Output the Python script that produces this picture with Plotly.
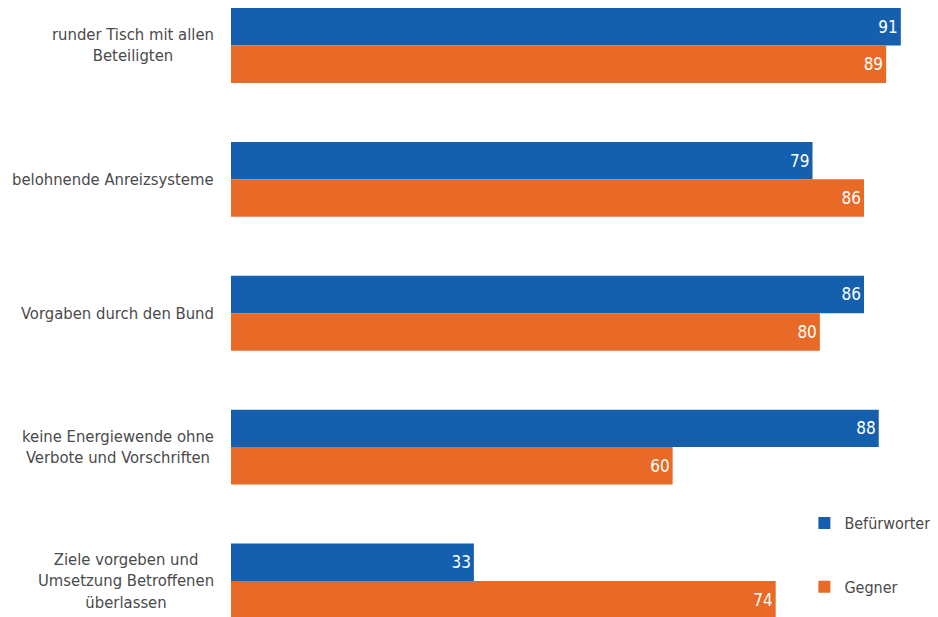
import plotly.graph_objects as go

categories = [
    "runder Tisch mit allen<br>Beteiligten",
    "belohnende Anreizsysteme",
    "Vorgaben durch den Bund",
    "keine Energiewende ohne<br>Verbote und Vorschriften",
    "Ziele vorgeben und<br>Umsetzung Betroffenen<br>überlassen",
]
befuerworter = [91, 79, 86, 88, 33]
gegner = [89, 86, 80, 60, 74]
series_names = ["Befürworter", "Gegner"]

BLUE = "#1560ae"
ORANGE = "#e96a26"
FONT = "DejaVu Sans Condensed, Roboto, sans-serif"
TEXT = "#4a4a4a"

ids = list(range(len(categories)))

fig = go.Figure()
for name, vals, col in [(series_names[0], befuerworter, BLUE), (series_names[1], gegner, ORANGE)]:
    fig.add_trace(go.Bar(
        y=ids, x=vals, orientation="h", name=name,
        marker=dict(color=col, line=dict(width=0)),
        text=[str(v) for v in vals], textposition="inside", insidetextanchor="end",
        textfont=dict(color="white", size=17, family=FONT),
        legendgroup=name, hoverinfo="skip",
    ))

for i, c in enumerate(categories):
    fig.add_annotation(
        x=0, xref="paper", y=i, yref="y", text=c, showarrow=False,
        xanchor="right", xshift=-15, align="center",
        font=dict(size=16.5, color=TEXT, family=FONT),
    )

fig.update_layout(
    width=960, height=609,
    margin=dict(l=223, r=30, t=0, b=0),
    paper_bgcolor="white", plot_bgcolor="white",
    barmode="group", bargap=0.44, bargroupgap=0,
    xaxis=dict(range=[0, 96.05], visible=False, fixedrange=True),
    yaxis=dict(range=[4.269, -0.28], visible=False, fixedrange=True),
    legend=dict(
        x=0.811, xref="paper", y=0.182, yref="paper", xanchor="left", yanchor="top",
        font=dict(size=16, color=TEXT, family=FONT),
        tracegroupgap=40, bgcolor="rgba(0,0,0,0)",
    ),
    uniformtext=dict(mode=False),
)

fig.write_html("out.html")
